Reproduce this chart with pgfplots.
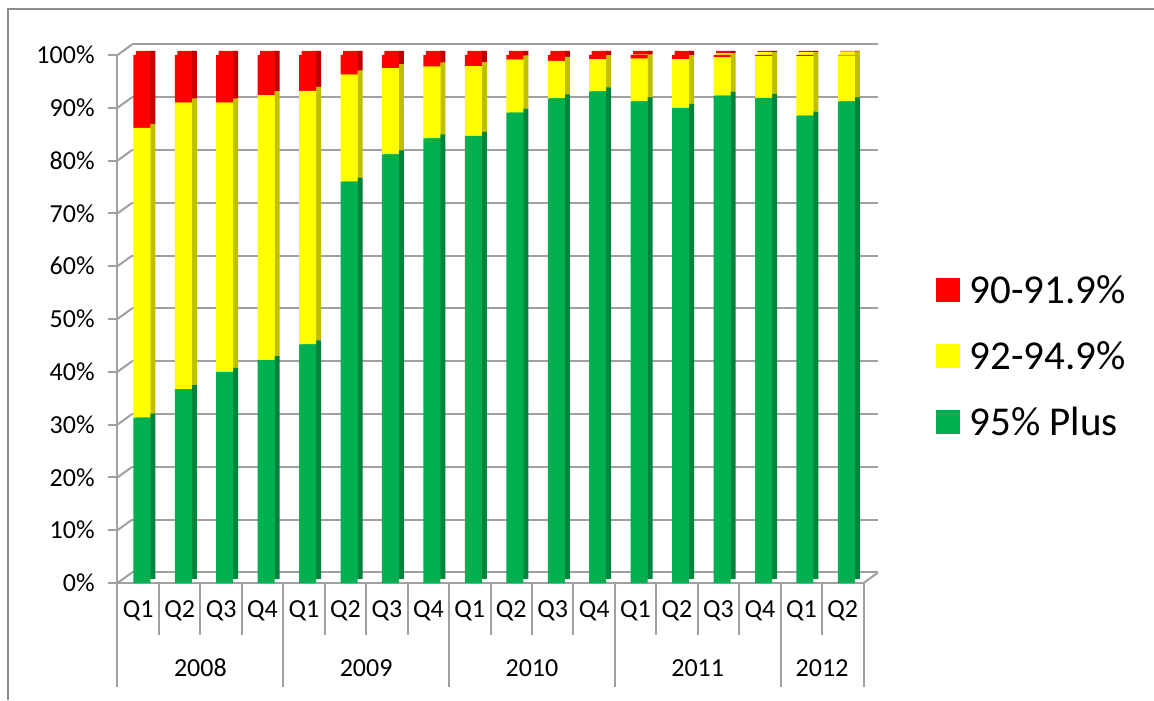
\documentclass[border=0pt]{standalone}
\usepackage{pgfplots}
\pgfplotsset{compat=1.18}
\usepackage{pgfplotstable}
\usepackage{fontspec}
\setmainfont{Carlito}

\definecolor{barred}{HTML}{FF0000}
\definecolor{baryellow}{HTML}{FFFF00}
\definecolor{bargreen}{HTML}{00B050}
\definecolor{sidered}{HTML}{C00000}
\definecolor{sideyellow}{HTML}{BFBF00}
\definecolor{sidegreen}{HTML}{00843C}
\definecolor{gridgray}{HTML}{A0A0A0}
\definecolor{framegray}{HTML}{8C8C8C}

% Share of results per band, by quarter (percent, stacks sum to 100)
\pgfplotstableread{
idx plus mid low
0  31.3 54.9 13.8
1  36.7 54.3 9.0
2  40.0 51.0 9.0
3  42.2 50.2 7.6
4  45.2 48.0 6.8
5  76.0 20.3 3.7
6  81.2 16.3 2.5
7  84.2 13.6 2.2
8  84.7 13.2 2.1
9  89.1 10.0 0.9
10 91.8 7.1  1.1
11 93.1 6.1  0.8
12 91.2 8.1  0.7
13 90.0 9.2  0.8
14 92.3 7.3  0.4
15 91.9 7.9  0.2
16 88.5 11.3 0.2
17 91.2 8.7  0.1
}\shares

\tikzset{tickfont/.style={font=\fontsize{13}{15.6}\selectfont}}

\pgfplotsset{
  layer/.style={
    scale only axis, width=373pt, height=264pt,
    xmin=-0.5, xmax=17.5, ymin=0, ymax=100,
    ybar stacked, anchor=south west,
    axis line style={draw=none},
    xtick=\empty, ytick=\empty, clip=false,
  },
}

\begin{document}
\begin{tikzpicture}
\path[use as bounding box] (0,0) rectangle (577pt,350pt);
\draw[framegray, line width=0.8pt] (4pt,0) -- (4pt,345.5pt) -- (577pt,345.5pt);

% back wall with grid lines, side wall and floor outline
\begin{axis}[layer, at={(66pt,63.75pt)},
  ytick={0,10,...,100}, yticklabels={}, ymajorgrids,
  major grid style={gridgray, line width=1pt}, tick style={draw=none}]
  \pgfplotsinvokeforeach{0,10,...,100}{
    \draw[gridgray, line width=1pt] (axis cs:-0.5,#1) -- ++(-7.25pt,-5.25pt);
  }
  \draw[gridgray, line width=1pt] (axis cs:17.5,0) -- ++(-7.25pt,-5.25pt);
\end{axis}

% top faces of the bars
\begin{axis}[layer, at={(58.75pt,60.5pt)}, bar width=8.5pt, bar shift=3.05pt]
  \addplot[fill=bargreen, draw=none] table[x=idx, y=plus] {\shares};
  \addplot[fill=baryellow, draw=none] table[x=idx, y=mid] {\shares};
  \addplot[fill=barred, draw=none] table[x=idx, y=low] {\shares};
\end{axis}

% shaded right-hand sides of the bars
\begin{axis}[layer, at={(58.75pt,60.5pt)}, bar width=2.5pt, bar shift=7.3pt]
  \addplot[fill=sidegreen, draw=none] table[x=idx, y=plus] {\shares};
  \addplot[fill=sideyellow, draw=none] table[x=idx, y=mid] {\shares};
  \addplot[fill=sidered, draw=none] table[x=idx, y=low] {\shares};
\end{axis}

% front faces, axes, labels and legend
\begin{axis}[layer, at={(58.75pt,58.5pt)}, bar width=8.5pt, bar shift=1.8pt,
  ytick={0,10,...,100}, ytick pos=left, tick align=outside,
  major tick length=4.5pt,
  ytick style={gridgray, line width=1pt},
  xtick style={draw=none},
  /pgf/number format/assume math mode=true,
  yticklabel={\pgfmathprintnumber{\tick}\%},
  yticklabel style={tickfont, anchor=east, inner sep=0pt, xshift=-6.75pt},
  xtick={0,...,17},
  xticklabels={Q1,Q2,Q3,Q4,Q1,Q2,Q3,Q4,Q1,Q2,Q3,Q4,Q1,Q2,Q3,Q4,Q1,Q2},
  xticklabel style={tickfont, anchor=base, inner sep=0pt, yshift=-12.7pt},
  legend image code/.code={\fill[#1] (0pt,-6pt) rectangle (12pt,6pt);},
  reverse legend,
  legend cell align=left,
  legend style={at={(1.089,0.4297)}, anchor=west, draw=none, fill=none,
    font=\fontsize{20.5}{24}\selectfont, row sep=20pt,
    nodes={inner sep=0pt, text height=13pt, text depth=0pt},
    /tikz/every odd column/.append style={column sep=4.6pt}},
]
  \addplot[fill=bargreen, draw=none] table[x=idx, y=plus] {\shares};
  \addlegendentry{95\% Plus}
  \addplot[fill=baryellow, draw=none] table[x=idx, y=mid] {\shares};
  \addlegendentry{92-94.9\%}
  \addplot[fill=barred, draw=none] table[x=idx, y=low] {\shares};
  \addlegendentry{90-91.9\%}

  % front edges of the wall and floor
  \draw[gridgray, line width=1pt] (axis cs:-0.5,0) -- (axis cs:-0.5,100);
  \draw[gridgray, line width=1pt] (axis cs:-0.5,0) -- (axis cs:17.5,0);

  % dividers of the two-level category axis
  \pgfplotsinvokeforeach{0.5,1.5,2.5,4.5,5.5,6.5,8.5,9.5,10.5,12.5,13.5,14.5,16.5}{
    \draw[gridgray, line width=1pt] (axis cs:#1,0) -- ++(0pt,-26pt);
  }
  \pgfplotsinvokeforeach{-0.5,3.5,7.5,11.5,15.5,17.5}{
    \draw[gridgray, line width=1pt] (axis cs:#1,0) -- ++(0pt,-52pt);
  }
  \node[tickfont, anchor=base, inner sep=0pt, yshift=-46.7pt] at (axis cs:1.5,0) {2008};
  \node[tickfont, anchor=base, inner sep=0pt, yshift=-46.7pt] at (axis cs:5.5,0) {2009};
  \node[tickfont, anchor=base, inner sep=0pt, yshift=-46.7pt] at (axis cs:9.5,0) {2010};
  \node[tickfont, anchor=base, inner sep=0pt, yshift=-46.7pt] at (axis cs:13.5,0) {2011};
  \node[tickfont, anchor=base, inner sep=0pt, yshift=-46.7pt] at (axis cs:16.5,0) {2012};
\end{axis}
\end{tikzpicture}
\end{document}
